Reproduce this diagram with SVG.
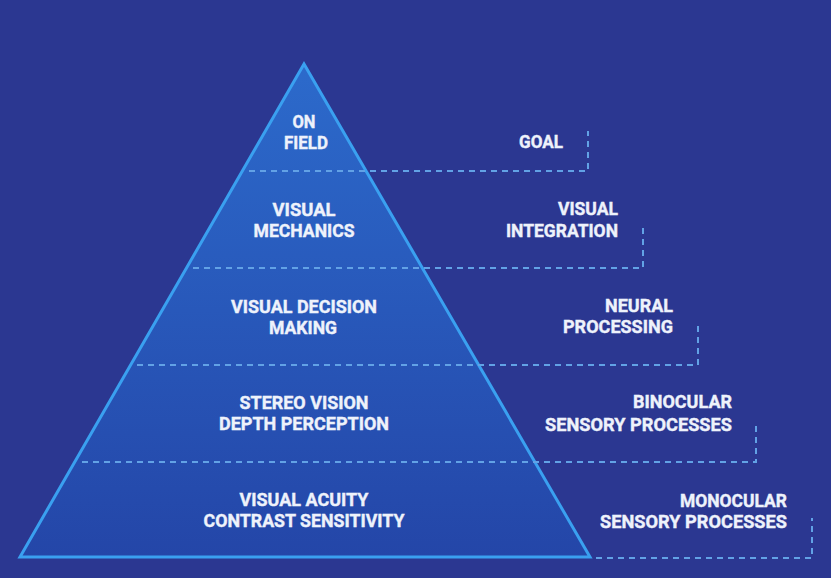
<svg xmlns="http://www.w3.org/2000/svg" width="831" height="578" viewBox="0 0 831 578">
<defs>
<linearGradient id="tri" x1="0" y1="64" x2="0" y2="557" gradientUnits="userSpaceOnUse">
<stop offset="0" stop-color="#2c6acb"/>
<stop offset="0.5" stop-color="#2858ba"/>
<stop offset="1" stop-color="#2446a8"/>
</linearGradient>
<style>
.t{font-family:Roboto,"Liberation Sans",sans-serif;font-weight:bold;font-size:19px;fill:#eef2fb;stroke:#eef2fb;stroke-width:0.4}
.c{text-anchor:middle}
.r{text-anchor:end}
.d{fill:none;stroke:#62a2e6;stroke-width:2;stroke-dasharray:6 5}
</style>
</defs>
<rect width="831" height="578" fill="#2b3791"/>
<g id="pyramid">
<polygon points="304,64 20,557 590,557" fill="url(#tri)" stroke="#3aa0f0" stroke-width="3" stroke-linejoin="miter"/>
</g>
<g id="connectors">
<polyline class="d" points="249,171 588,171 588,131"/>
<polyline class="d" points="193,268 643,268 643,228"/>
<polyline class="d" points="137,365 698,365 698,325"/>
<polyline class="d" points="82,462 756,462 756,422"/>
<polyline class="d" points="596,558 812,558 812,518"/>
</g>
<g id="level1">
<text class="t c" x="304" y="128" textLength="23" lengthAdjust="spacingAndGlyphs">ON</text>
<text class="t c" x="306" y="149" textLength="44" lengthAdjust="spacingAndGlyphs">FIELD</text>
</g>
<g id="level2">
<text class="t c" x="304" y="216" textLength="63" lengthAdjust="spacingAndGlyphs">VISUAL</text>
<text class="t c" x="304" y="237" textLength="101" lengthAdjust="spacingAndGlyphs">MECHANICS</text>
</g>
<g id="level3">
<text class="t c" x="304" y="313" textLength="146" lengthAdjust="spacingAndGlyphs">VISUAL DECISION</text>
<text class="t c" x="303" y="334" textLength="68" lengthAdjust="spacingAndGlyphs">MAKING</text>
</g>
<g id="level4">
<text class="t c" x="304" y="409" textLength="129" lengthAdjust="spacingAndGlyphs">STEREO VISION</text>
<text class="t c" x="304" y="430" textLength="170" lengthAdjust="spacingAndGlyphs">DEPTH PERCEPTION</text>
</g>
<g id="level5">
<text class="t c" x="304" y="506" textLength="129" lengthAdjust="spacingAndGlyphs">VISUAL ACUITY</text>
<text class="t c" x="304" y="527" textLength="201" lengthAdjust="spacingAndGlyphs">CONTRAST SENSITIVITY</text>
</g>
<g id="goal">
<text class="t r" x="563" y="148" textLength="44" lengthAdjust="spacingAndGlyphs">GOAL</text>
</g>
<g id="integration">
<text class="t r" x="618" y="215" textLength="60" lengthAdjust="spacingAndGlyphs">VISUAL</text>
<text class="t r" x="618" y="237" textLength="112" lengthAdjust="spacingAndGlyphs">INTEGRATION</text>
</g>
<g id="neural">
<text class="t r" x="673" y="312" textLength="68" lengthAdjust="spacingAndGlyphs">NEURAL</text>
<text class="t r" x="673" y="333" textLength="110" lengthAdjust="spacingAndGlyphs">PROCESSING</text>
</g>
<g id="binocular">
<text class="t r" x="732" y="408" textLength="99" lengthAdjust="spacingAndGlyphs">BINOCULAR</text>
<text class="t r" x="732" y="431" textLength="187" lengthAdjust="spacingAndGlyphs">SENSORY PROCESSES</text>
</g>
<g id="monocular">
<text class="t r" x="787" y="507" textLength="107" lengthAdjust="spacingAndGlyphs">MONOCULAR</text>
<text class="t r" x="787" y="528" textLength="187" lengthAdjust="spacingAndGlyphs">SENSORY PROCESSES</text>
</g>
</svg>
